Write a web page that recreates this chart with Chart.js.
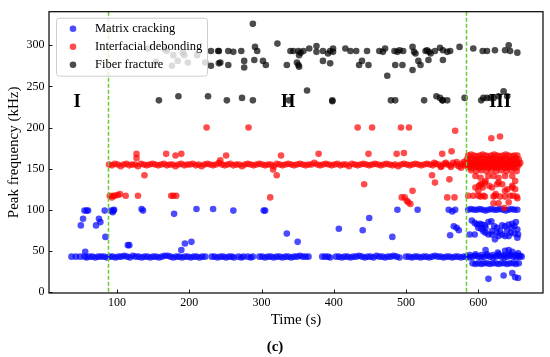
<!DOCTYPE html>
<html>
<head>
<meta charset="utf-8">
<script src="https://cdn.jsdelivr.net/npm/chart.js@4.4.1/dist/chart.umd.min.js"></script>
<style>
html,body{margin:0;padding:0;background:#fff;}
#wrap{width:550px;height:357px;}
</style>
</head>
<body>
<div id="wrap"><canvas id="c" width="550" height="357"></canvas></div>
<script>
const xTicks = [100, 200, 300, 400, 500, 600];
const yTicks = [0, 50, 100, 150, 200, 250, 300];
const seriesNames = ['Matrix cracking', 'Interfacial debonding', 'Fiber fracture'];
const stageBoundaries = [87.5, 583];
const stageLabels = ['I', 'II', 'III'];
const stageLabelX = [45, 337, 630];
const stageLabelY = 231;

const matrixCracking = [
[37,43],[43,43],[49,43],[55,43],[58,42],[62,43],[66,43],[70,42],[74,43],[78,43],[82,43],[86,42],[90,43],[94,43],[98,42],[102,43],[106,43],[110,44],[114,43],[118,42],[122,44],[126,43],[130,43],[134,42],[138,43],[142,43],[146,42],[150,43],[154,43],[158,42],[162,43],[166,44],[170,44],[174,43],[178,42],[182,43],[186,43],[190,42],[194,43],[198,43],[202,42],[206,43],[210,43],[214,42],[218,43],[222,43],[231,43],[235,43],[239,42],[243,43],[247,43],[251,42],[255,43],[259,43],[262,42],[268,43],[272,42],[275,43],[281,43],[285,42],[288,43],[297,43],[301,43],[305,42],[309,43],[313,43],[317,42],[321,43],[325,43],[329,42],[333,43],[337,43],[341,42],[345,43],[349,43],[353,44],[357,43],[361,43],[365,43],[384,43],[388,43],[392,43],[395,42],[403,43],[407,43],[411,42],[415,43],[419,43],[423,42],[427,43],[431,43],[435,44],[439,43],[443,42],[447,43],[451,43],[455,42],[459,44],[463,43],[467,43],[471,42],[475,43],[479,43],[483,44],[487,43],[491,42],[500,43],[504,43],[508,42],[512,43],[516,43],[520,42],[524,43],[528,43],[532,42],[536,43],[540,44],[544,43],[548,43],[552,42],[556,43],[560,43],[564,42],[568,43],[572,43],[576,42],[580,43],[584,43],[588,42],[592,43],[596,44],[600,43],[604,42],[608,43],[612,44],[616,43],[620,42],[624,43],[628,44],[632,43],[636,42],[640,43],[644,44],[648,43],[652,42],[656,43],[660,43],
[588,45],[596,46],[604,45],[612,46],[620,45],[628,46],[636,45],[644,46],[652,45],[658,44],
[592,35],[596,34],[600,35],[604,34],[608,35],[612,35],[616,34],[620,35],[624,35],[628,34],[632,35],[636,35],[640,34],[644,35],[648,35],[652,34],[656,35],
[610,51],[627,48],[637,50],[642,51],[647,49],[655,47],
[614,16],[635,20],[647,23],[651,18],[655,17],
[586,100],[590,101],[594,100],[598,100],[602,101],[606,100],[610,99],[614,100],[618,101],[622,100],[626,100],[630,101],[634,100],[638,99],[642,100],[646,101],[650,100],[654,100],
[591,87],[595,84],[598,82],[602,83],[605,82],[609,81],[600,78],[604,77],[607,74],[610,72],[614,70],[619,70],[623,64],[628,68],[633,70],[637,68],[642,68],[642,82],[647,83],[633,81],[637,80],[619,74],[610,78],[654,76],[655,70],[654,66],[588,70],[595,70],[614,85],[626,72],[645,72],[650,71],[630,74],[640,75],[618,86],[622,80],[626,78],[646,78],[650,80],[652,85],
[50,81],[53,89],[55,99],[58,99],[60,99],[56,49],[71,81],[75,89],[77,85],[83,99],[84,67],[92,99],[94,97],[95,99],[96,100],[115,57],[117,57],[134,101],[136,99],[179,95],[189,51],[194,59],[203,61],[210,101],[233,101],[261,99],[303,99],[305,99],[335,71],[350,61],[407,77],[440,75],[449,90],[481,67],[488,100],[516,100],[559,100],[564,98],[568,100],[566,80],[561,69],[573,75],[570,78]
];

const interfacialDebonding = [
[89,155],[93,154],[97,156],[101,155],[105,153],[109,155],[113,156],[117,154],[121,155],[125,155],[129,153],[133,156],[137,155],[141,154],[145,155],[149,156],[153,155],[157,154],[161,155],[165,156],[169,154],[173,155],[177,155],[181,153],[185,155],[189,156],[193,154],[197,155],[201,155],[205,156],[209,154],[213,155],[217,153],[221,155],[225,156],[229,155],[233,154],[237,155],[241,157],[245,155],[249,154],[253,155],[257,156],[261,154],[265,155],[269,155],[273,153],[277,155],[281,156],[285,155],[289,154],[293,155],[297,156],[301,155],[305,154],[309,155],[313,155],[317,153],[321,156],[325,155],[329,154],[333,155],[337,156],[341,155],[345,154],[349,155],[353,156],[357,155],[361,154],[365,155],[369,155],[373,157],[377,155],[381,154],[385,155],[389,156],[393,155],[397,154],[401,155],[405,156],[409,154],[413,155],[417,155],[421,153],[425,156],[429,155],[433,154],[437,155],[441,156],[445,155],[449,154],[453,155],[457,156],[461,155],[465,154],[469,155],[473,156],[477,155],[481,154],[485,155],[489,153],[493,155],[497,156],[501,155],[505,154],[509,155],[513,156],[517,155],[521,154],[525,155],[529,156],[533,155],[537,154],[541,156],[545,155],[549,153],[553,156],[557,155],[561,154],[565,157],[569,155],[573,153],[577,156],[581,154],[539,157],[548,152],[555,157],[562,152],[570,158],[576,151],[580,158],
[90,117],[93,115],[95,117],[97,117],[101,118],[104,119],[112,117],[129,117],[175,117],[178,117],[182,117],[312,115],[494,115],[498,115],[501,111],[503,109],[506,107],[509,123],[557,115],[567,115],
[127,168],[127,163],[138,142],[168,168],[181,166],[189,168],[243,160],[251,166],[316,149],[321,142],[327,166],[379,168],[442,131],[448,168],[487,168],[497,169],[536,142],[540,133],[550,168],[560,137],[563,171],[568,196],[224,200],[282,200],[433,200],[453,200],[493,200],[504,200],[618,187],[630,189],
[586,166],[590,167],[594,166],[598,165],[602,166],[606,167],[610,166],[614,165],[618,166],[622,167],[626,166],[630,165],[634,166],[638,167],[642,166],[646,165],[650,166],[654,166],
[584,161],[588,162],[592,161],[596,160],[600,161],[604,162],[608,161],[612,160],[616,161],[620,162],[624,161],[628,160],[632,161],[636,162],[640,161],[644,160],[648,161],[652,162],[656,161],
[586,158],[590,157],[594,158],[598,158],[602,157],[606,158],[610,158],[614,157],[618,158],[622,158],[626,157],[630,158],[634,158],[638,157],[642,158],[646,158],[650,157],[654,158],[658,157],
[584,155],[588,154],[592,155],[596,155],[600,154],[604,155],[608,155],[612,154],[616,155],[620,155],[624,154],[628,155],[632,155],[636,154],[640,155],[644,155],[648,154],[652,155],[656,155],
[586,152],[590,151],[594,152],[598,152],[602,151],[606,152],[610,152],[614,151],[618,152],[622,152],[626,151],[630,152],[634,152],[638,151],[642,152],[646,152],[650,151],[654,152],
[590,148],[597,147],[604,148],[611,147],[618,148],[625,147],[632,148],[639,147],[646,148],[653,147],
[596,141],[603,139],[610,135],[614,141],[621,141],[628,139],[637,141],[647,141],[651,135],[603,131],[606,127],[615,129],[626,131],[628,133],[640,125],[647,127],[586,117],[593,117],[600,117],[607,117],[621,116],[630,116],[637,116],[644,117],[653,116],[621,108],[628,108],[642,109],[596,127],[600,123],[601,129],[605,131],[609,133],[619,127],[633,131],[647,129],[624,119],[637,123],[651,125],[603,116],[609,116],[636,102],[623,117],[648,117],[654,114]
];

const fiberFracture = [
[143,296],[154,280],[166,295],[169,293],[176,275],[178,288],[184,281],[191,291],[193,288],[198,279],[211,288],[222,279],[230,293],[230,275],[240,293],[241,293],[241,278],[243,279],[254,293],[261,292],[254,276],[272,293],[276,281],[276,273],[288,326],[290,282],[291,298],[294,293],[302,281],[306,276],[322,302],[340,293],[344,293],[351,293],[352,288],[354,291],[358,293],[366,296],[376,299],[376,292],[385,293],[392,290],[395,293],[399,296],[399,292],[416,296],[423,293],[431,293],[446,293],[463,293],[468,292],[471,296],[484,293],[488,292],[491,294],[496,293],[509,298],[511,292],[513,290],[527,293],[529,294],[532,292],[534,290],[540,293],[547,297],[551,294],[557,292],[561,293],[574,298],[593,296],[606,293],[612,293],[623,294],[637,294],[642,300],[644,293],[654,291],
[335,276],[349,279],[351,276],[352,274],[385,281],[395,278],[435,276],[439,281],[448,276],[474,263],[485,276],[495,276],[509,270],[517,281],[520,276],[531,282],[551,282],
[158,233],[185,238],[226,238],[252,233],[273,236],[288,233],[338,233],[363,245],[398,233],[398,232],[479,233],[485,233],[525,233],[542,238],[547,236],[550,233],[551,233],[557,233],[581,236],[604,233],[607,236],[612,236],[617,236],[621,236],[628,238],[635,244],[640,238]
];

const seriesData = [matrixCracking, interfacialDebonding, fiberFracture];
const seriesColors = ['rgba(0,0,255,0.7)', 'rgba(255,0,0,0.7)', 'rgba(0,0,0,0.7)'];
const SERIF = '"Liberation Serif", "Times New Roman", serif';

const overlay = {
  id: 'overlay',
  beforeDatasetsDraw(chart) {
    const {ctx, scales: {x, y}} = chart;
    ctx.save();
    ctx.font = 'bold 19px ' + SERIF;
    ctx.fillStyle = '#000';
    ctx.textAlign = 'center';
    ctx.textBaseline = 'middle';
    stageLabels.forEach((t, i) => ctx.fillText(t, x.getPixelForValue(stageLabelX[i]), y.getPixelForValue(stageLabelY)));
    ctx.restore();
  },
  afterDatasetsDraw(chart) {
    const {ctx, chartArea: a, scales: {x, y}} = chart;
    ctx.save();
    // stage boundaries
    ctx.strokeStyle = '#66cc33';
    ctx.lineWidth = 1.5;
    ctx.setLineDash([4, 2]);
    stageBoundaries.forEach(v => {
      const px = Math.round(x.getPixelForValue(v)) + 0.5;
      ctx.beginPath(); ctx.moveTo(px, a.top); ctx.lineTo(px, a.bottom); ctx.stroke();
    });
    ctx.setLineDash([]);
    // inward ticks
    ctx.strokeStyle = '#000';
    ctx.lineWidth = 0.9;
    xTicks.forEach(v => {
      const px = Math.round(x.getPixelForValue(v)) + 0.5;
      ctx.beginPath(); ctx.moveTo(px, a.bottom); ctx.lineTo(px, a.bottom - 3.5); ctx.stroke();
    });
    yTicks.forEach(v => {
      const py = Math.round(y.getPixelForValue(v)) + 0.5;
      ctx.beginPath(); ctx.moveTo(a.left, py); ctx.lineTo(a.left + 3.5, py); ctx.stroke();
    });
    // frame
    ctx.lineWidth = 1.2;
    ctx.strokeRect(a.left, a.top, a.right - a.left, a.bottom - a.top);
    // legend
    const lx = a.left + 7, ly = a.top + 6, lw = 151, lh = 58;
    ctx.beginPath();
    if (ctx.roundRect) ctx.roundRect(lx + 0.5, ly + 0.5, lw, lh, 3); else ctx.rect(lx + 0.5, ly + 0.5, lw, lh);
    ctx.fillStyle = 'rgba(255,255,255,0.8)';
    ctx.fill();
    ctx.strokeStyle = '#cccccc';
    ctx.lineWidth = 1;
    ctx.stroke();
    ctx.font = '12.5px ' + SERIF;
    ctx.textAlign = 'left';
    ctx.textBaseline = 'middle';
    seriesNames.forEach((n, i) => {
      const cy = ly + 11 + i * 18;
      ctx.beginPath();
      ctx.arc(lx + 17, cy, 3.3, 0, Math.PI * 2);
      ctx.fillStyle = seriesColors[i];
      ctx.fill();
      ctx.fillStyle = '#000';
      ctx.fillText(n, lx + 39, cy + 0.5);
    });
    // axis titles
    ctx.font = '15px ' + SERIF;
    ctx.textAlign = 'center';
    ctx.textBaseline = 'middle';
    ctx.fillText('Time (s)', (a.left + a.right) / 2, 320);
    ctx.save();
    ctx.translate(14, (a.top + a.bottom) / 2);
    ctx.rotate(-Math.PI / 2);
    ctx.fillText('Peak frequency (kHz)', 0, 0);
    ctx.restore();
    ctx.font = 'bold 15px ' + SERIF;
    ctx.fillText('(c)', chart.width / 2, 347);
    ctx.restore();
  }
};

new Chart(document.getElementById('c'), {
  type: 'scatter',
  data: {
    datasets: seriesData.map((d, i) => ({
      label: seriesNames[i],
      data: d.map(p => ({x: p[0], y: p[1]})),
      backgroundColor: seriesColors[i],
      borderColor: seriesColors[i],
      borderWidth: 0,
      pointRadius: 3.3,
      pointHoverRadius: 3.3,
      order: 3 - i
    }))
  },
  options: {
    responsive: false,
    animation: false,
    devicePixelRatio: 1,
    layout: {padding: {left: 0, right: 7, top: 8, bottom: 0}},
    plugins: {legend: {display: false}, tooltip: {enabled: false}},
    scales: {
      x: {
        type: 'linear', min: 5.9, max: 689.5,
        grid: {display: false, drawTicks: false},
        border: {display: false},
        afterBuildTicks: s => { s.ticks = xTicks.map(v => ({value: v})); },
        afterFit: s => { s.height = 64; },
        ticks: {padding: 3, color: '#000', font: {family: SERIF, size: 12}}
      },
      y: {
        type: 'linear', min: -1.2, max: 340.8,
        grid: {display: false, drawTicks: false},
        border: {display: false},
        afterBuildTicks: s => { s.ticks = yTicks.map(v => ({value: v})); },
        afterFit: s => { s.width = 49; },
        ticks: {padding: 4.5, color: '#000', font: {family: SERIF, size: 12}}
      }
    }
  },
  plugins: [overlay]
});
</script>
</body>
</html>
